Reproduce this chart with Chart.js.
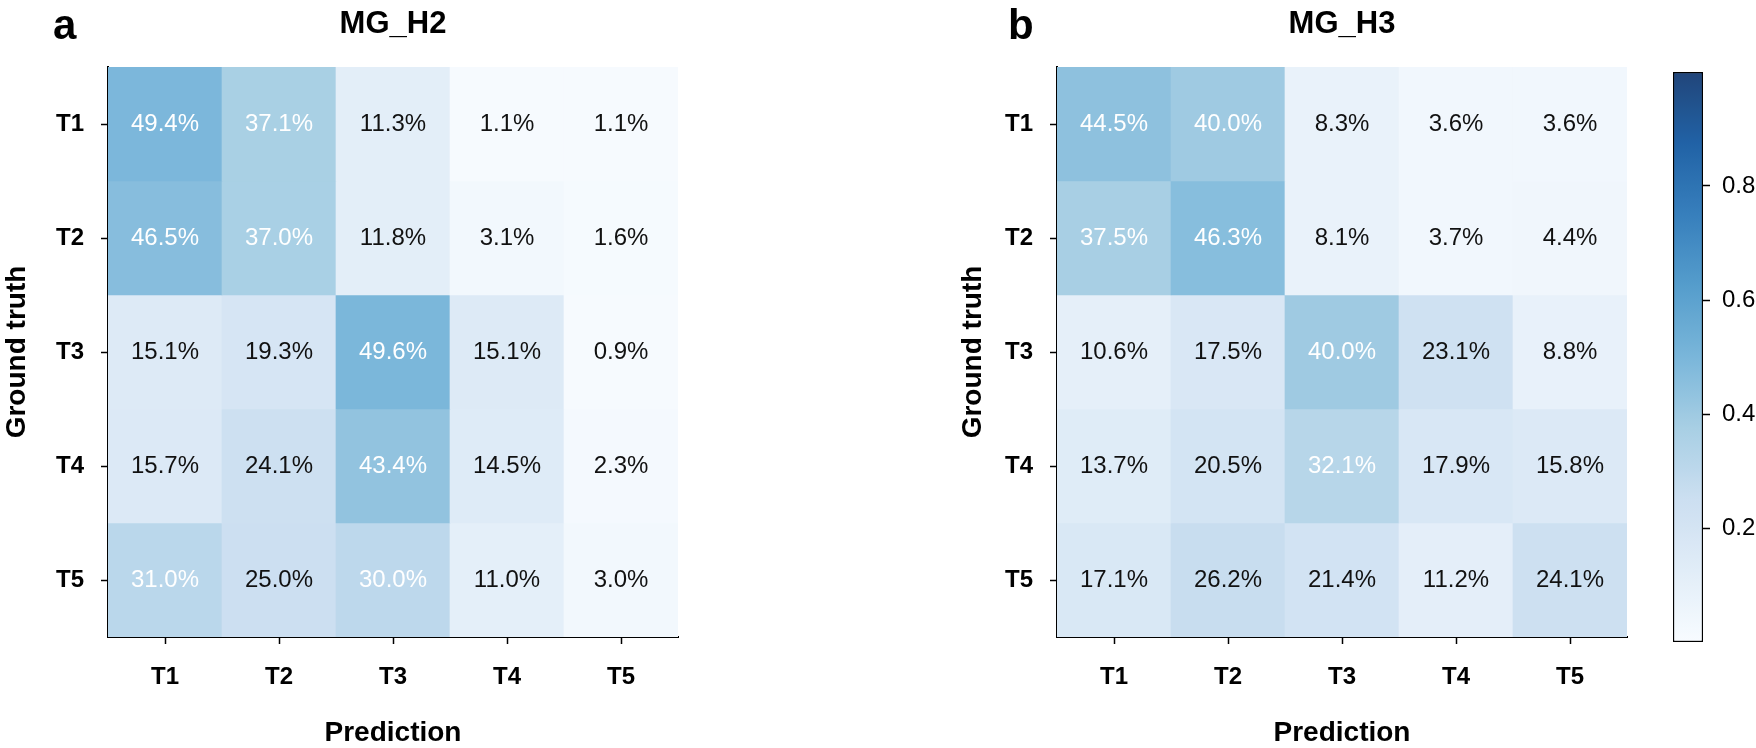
<!DOCTYPE html>
<html>
<head>
<meta charset="utf-8">
<script src="https://cdn.jsdelivr.net/npm/chart.js@4.4.1/dist/chart.umd.min.js"></script>
<style>
    html, body { margin: 0; padding: 0; background: #fff; overflow: hidden; }
    #wrap { position: relative; width: 1756px; height: 748px; }
    canvas { position: absolute; top: 0; }
</style>
</head>
<body>
<div id="wrap">
    <canvas id="h2" width="680" height="748" style="left:0px"></canvas>
    <canvas id="h3" width="680" height="748" style="left:949px"></canvas>
    <canvas id="cbar" width="96" height="748" style="left:1660px"></canvas>
</div>
<script>
// Confusion matrices (percent), rows = ground truth, columns = prediction
const categories = ['T1', 'T2', 'T3', 'T4', 'T5'];

const h2Rows = [
    [49.4, 37.1, 11.3, 1.1, 1.1],
    [46.5, 37.0, 11.8, 3.1, 1.6],
    [15.1, 19.3, 49.6, 15.1, 0.9],
    [15.7, 24.1, 43.4, 14.5, 2.3],
    [31.0, 25.0, 30.0, 11.0, 3.0]
];

const h3Rows = [
    [44.5, 40.0, 8.3, 3.6, 3.6],
    [37.5, 46.3, 8.1, 3.7, 4.4],
    [10.6, 17.5, 40.0, 23.1, 8.8],
    [13.7, 20.5, 32.1, 17.9, 15.8],
    [17.1, 26.2, 21.4, 11.2, 24.1]
];

const colorbarTicks = [0.2, 0.4, 0.6, 0.8];

// matplotlib "Blues"
const bluesStops = [
    [247, 251, 255], [222, 235, 247], [198, 219, 239], [158, 202, 225],
    [107, 174, 214], [66, 146, 198], [33, 113, 181], [8, 81, 156], [8, 48, 107]
];

const FONT = '"Liberation Sans", Arial, Helvetica, sans-serif';
const ALPHA = 0.9;

function blues(v) {
    v = Math.max(0, Math.min(1, v));
    const pos = v * (bluesStops.length - 1);
    const i = Math.min(Math.floor(pos), bluesStops.length - 2);
    const t = pos - i;
    const a = bluesStops[i], b = bluesStops[i + 1];
    const rgb = [0, 1, 2].map(k => {
        const c = a[k] + (b[k] - a[k]) * t;
        return Math.round(c * ALPHA + 255 * (1 - ALPHA));
    });
    return `rgb(${rgb[0]}, ${rgb[1]}, ${rgb[2]})`;
}

// Draws the percentage text in every cell
const cellText = {
    id: 'cellText',
    afterDatasetsDraw(chart) {
        const ctx = chart.ctx;
        ctx.save();
        ctx.font = `24px ${FONT}`;
        ctx.textAlign = 'center';
        ctx.textBaseline = 'middle';
        chart.data.datasets.forEach((ds, di) => {
            chart.getDatasetMeta(di).data.forEach((el, i) => {
                const v = ds.data[i].v;
                const { x, y, base } = el.getProps(['x', 'y', 'base'], true);
                ctx.fillStyle = v > 28 ? '#ffffff' : '#111111';
                ctx.fillText(v.toFixed(1) + '%', x, (y + base) / 2);
            });
        });
        ctx.restore();
    }
};

// Panel letter (a / b)
const panelLetter = {
    id: 'panelLetter',
    afterDraw(chart, args, opts) {
        if (!opts.text) return;
        const ctx = chart.ctx;
        ctx.save();
        ctx.font = `bold 42px ${FONT}`;
        ctx.fillStyle = '#000';
        ctx.textAlign = 'left';
        ctx.textBaseline = 'alphabetic';
        ctx.fillText(opts.text, opts.x, opts.y);
        ctx.restore();
    }
};

function makeHeatmap(canvasId, title, rows, letter, letterX, yTitlePad) {
    const datasets = rows.map((row, r) => ({
        data: row.map((v, c) => ({ x: categories[c], y: [r, r + 1], v: v })),
        backgroundColor: ctx => blues(ctx.raw.v / 100),
        borderWidth: 0,
        barPercentage: 1,
        categoryPercentage: 1,
        grouped: false
    }));

    return new Chart(document.getElementById(canvasId), {
        type: 'bar',
        data: { labels: categories, datasets: datasets },
        plugins: [cellText, panelLetter],
        options: {
            responsive: false,
            animation: false,
            layout: { padding: { left: 0, right: 2, top: 0, bottom: 0 } },
            plugins: {
                legend: { display: false },
                tooltip: { enabled: false },
                title: {
                    display: true,
                    text: title,
                    fullSize: false,
                    color: '#000',
                    font: { family: FONT, size: 31, weight: 'bold', lineHeight: 1.2 },
                    padding: { top: 6, bottom: 23.8 }
                },
                panelLetter: { text: letter, x: letterX, y: 39 }
            },
            scales: {
                x: {
                    type: 'category',
                    offset: true,
                    afterFit: s => { s.height = 111; },
                    grid: {
                        display: true, offset: false, drawOnChartArea: false,
                        drawTicks: true, tickLength: 7, tickColor: '#000', tickWidth: 1.5
                    },
                    border: { display: true, color: '#000', width: 2 },
                    ticks: {
                        color: '#000', padding: 19,
                        font: { family: FONT, size: 24, weight: 'bold' }
                    },
                    title: {
                        display: true, text: 'Prediction', color: '#000',
                        font: { family: FONT, size: 28, weight: 'bold', lineHeight: 1 },
                        padding: { top: 0, bottom: 1 }
                    }
                },
                y: {
                    type: 'linear',
                    min: 0,
                    max: 5,
                    reverse: true,
                    afterFit: s => { s.width = 108; },
                    afterBuildTicks: s => {
                        s.ticks = categories.map((c, i) => ({ value: i + 0.5 }));
                    },
                    grid: {
                        display: true, drawOnChartArea: false,
                        drawTicks: true, tickLength: 7, tickColor: '#000', tickWidth: 1.5
                    },
                    border: { display: true, color: '#000', width: 2 },
                    ticks: {
                        color: '#000', padding: 17,
                        font: { family: FONT, size: 24, weight: 'bold' },
                        callback: v => categories[Math.floor(v)]
                    },
                    title: {
                        display: true, text: 'Ground truth', color: '#000',
                        font: { family: FONT, size: 28, weight: 'bold', lineHeight: 1.2 },
                        padding: { top: yTitlePad, bottom: 0 }
                    }
                }
            }
        }
    });
}

makeHeatmap('h2', 'MG_H2', h2Rows, 'a', 53, 0);
makeHeatmap('h3', 'MG_H3', h3Rows, 'b', 59, 7);

// Colorbar
new Chart(document.getElementById('cbar'), {
    type: 'bar',
    data: {
        labels: [''],
        datasets: [{
            data: [[0, 1]],
            backgroundColor: c => {
                const chart = c.chart;
                if (!chart.chartArea) return null;
                const ys = chart.scales.y;
                const g = chart.ctx.createLinearGradient(0, ys.getPixelForValue(0), 0, ys.getPixelForValue(1));
                for (let i = 0; i <= 40; i++) {
                    g.addColorStop(i / 40, blues(i / 40));
                }
                return g;
            },
            borderColor: '#000',
            borderWidth: 1.5,
            borderSkipped: false,
            barPercentage: 1,
            categoryPercentage: 1
        }]
    },
    options: {
        responsive: false,
        animation: false,
        layout: { padding: { left: 13, right: 0, top: 72, bottom: 106 } },
        plugins: { legend: { display: false }, tooltip: { enabled: false } },
        scales: {
            x: { display: false, offset: true },
            y: {
                position: 'right',
                min: 0,
                max: 1,
                afterFit: s => { s.width = 53; },
                afterBuildTicks: s => {
                    s.ticks = colorbarTicks.map(v => ({ value: v }));
                },
                grid: {
                    display: true, drawOnChartArea: false,
                    drawTicks: true, tickLength: 7, tickColor: '#000', tickWidth: 1.5
                },
                border: { display: false },
                ticks: {
                    color: '#000', padding: 12,
                    font: { family: FONT, size: 24 },
                    callback: v => v.toFixed(1)
                }
            }
        }
    }
});
</script>
</body>
</html>
